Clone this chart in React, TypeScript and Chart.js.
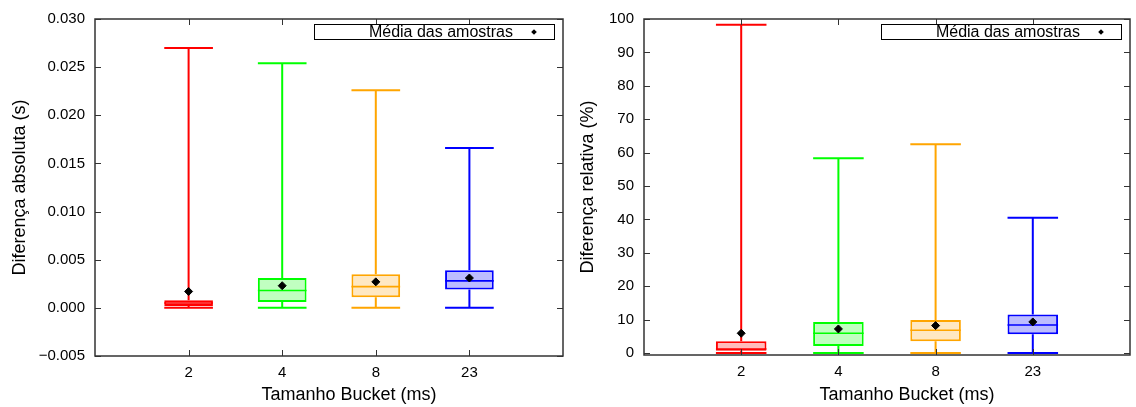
import React, { useEffect, useRef } from 'react';
import { Chart, registerables } from 'chart.js';

Chart.register(...registerables);

// Bucket sizes (ms) shown on the x axis, placed at slots 1..4 of a 0..5 axis
const BUCKETS = ['2', '4', '8', '23'];
const SLOTS = [1, 2, 3, 4];

const EDGE_COLORS = ['#ff0000', '#00ff00', '#ffa500', '#0000ff'];
const FILL_COLORS = ['#ffbcbc', '#c0ffc0', '#ffe8c2', '#bcbcff'];

const LEGEND_LABEL = 'Média das amostras';
const X_TITLE = 'Tamanho Bucket (ms)';

// Absolute difference (s)
const ABS_MIN = [0, 0, 0, 0];
const ABS_Q1 = [0.0002, 0.0006, 0.0011, 0.0019];
const ABS_MEDIAN = [0.0005, 0.0018, 0.0022, 0.0028];
const ABS_Q3 = [0.0008, 0.0031, 0.0035, 0.0039];
const ABS_MAX = [0.027, 0.0254, 0.0226, 0.0166];
const ABS_MEAN = [0.0017, 0.0023, 0.0027, 0.0031];
const ABS_TICKS = [-0.005, 0, 0.005, 0.01, 0.015, 0.02, 0.025, 0.03];
const ABS_TICK_LABELS = ['\u22120.005', '0.000', '0.005', '0.010', '0.015', '0.020', '0.025', '0.030'];

// Relative difference (%)
const REL_MIN = [0, 0, 0, 0];
const REL_Q1 = [0.7, 2.1, 3.5, 5.6];
const REL_MEDIAN = [1.2, 5.9, 6.8, 8.4];
const REL_Q3 = [3.5, 9.3, 9.9, 11.5];
const REL_MAX = [98.3, 58.3, 62.5, 40.5];
const REL_MEAN = [5.9, 7.2, 8.2, 9.3];
const REL_TICKS = [0, 10, 20, 30, 40, 50, 60, 70, 80, 90, 100];
const REL_TICK_LABELS = ['0', '10', '20', '30', '40', '50', '60', '70', '80', '90', '100'];

const FONT = '"Liberation Sans", Arial, Helvetica, sans-serif';
const INK = '#000000';
const FRAME = '#333333';

type Spec = {
  min: number[];
  q1: number[];
  median: number[];
  q3: number[];
  max: number[];
  mean: number[];
  ticks: number[];
  tickLabels: string[];
  yMin: number;
  yMax: number;
  yTitle: string;
  axisWidth: number;
  padRight: number;
  xAxisHeight: number;
};

function makeBoxPlugin(s: Spec) {
  return {
    id: 'boxStats',
    beforeDatasetsDraw(chart: any) {
      const { ctx } = chart;
      const xs = chart.scales.x;
      const ys = chart.scales.y;
      const bars = chart.getDatasetMeta(1).data;
      ctx.save();
      ctx.lineWidth = 2;
      SLOTS.forEach((slot, i) => {
        const cx = xs.getPixelForValue(slot);
        const half = bars[i].width / 2;
        const yLo = ys.getPixelForValue(s.min[i]);
        const yQ1 = ys.getPixelForValue(s.q1[i]);
        const yQ3 = ys.getPixelForValue(s.q3[i]);
        const yHi = ys.getPixelForValue(s.max[i]);
        ctx.strokeStyle = EDGE_COLORS[i];
        ctx.beginPath();
        ctx.moveTo(cx, yLo);
        ctx.lineTo(cx, yQ1);
        ctx.moveTo(cx, yQ3);
        ctx.lineTo(cx, yHi);
        ctx.moveTo(cx - half, yLo);
        ctx.lineTo(cx + half, yLo);
        ctx.moveTo(cx - half, yHi);
        ctx.lineTo(cx + half, yHi);
        ctx.stroke();
      });
      ctx.restore();
    },
    afterDatasetDraw(chart: any, args: any) {
      if (args.index !== 1) return;
      const { ctx } = chart;
      const xs = chart.scales.x;
      const ys = chart.scales.y;
      const bars = chart.getDatasetMeta(1).data;
      ctx.save();
      ctx.lineWidth = 1.6;
      SLOTS.forEach((slot, i) => {
        const cx = xs.getPixelForValue(slot);
        const half = bars[i].width / 2;
        const y = ys.getPixelForValue(s.median[i]);
        ctx.strokeStyle = EDGE_COLORS[i];
        ctx.beginPath();
        ctx.moveTo(cx - half, y);
        ctx.lineTo(cx + half, y);
        ctx.stroke();
      });
      ctx.restore();
    },
    afterDraw(chart: any) {
      const { ctx, chartArea: a } = chart;
      const xs = chart.scales.x;
      const ys = chart.scales.y;
      const tick = 6;
      ctx.save();
      // inward tick marks on all four sides
      ctx.strokeStyle = FRAME;
      ctx.lineWidth = 1;
      ctx.beginPath();
      ys.ticks.forEach((t: any) => {
        const y = Math.round(ys.getPixelForValue(t.value)) + 0.5;
        ctx.moveTo(a.left, y);
        ctx.lineTo(a.left + tick, y);
        ctx.moveTo(a.right, y);
        ctx.lineTo(a.right - tick, y);
      });
      xs.ticks.forEach((t: any) => {
        const x = Math.round(xs.getPixelForValue(t.value)) + 0.5;
        ctx.moveTo(x, a.bottom);
        ctx.lineTo(x, a.bottom - tick);
        ctx.moveTo(x, a.top);
        ctx.lineTo(x, a.top + tick);
      });
      ctx.stroke();
      // plot frame
      ctx.lineWidth = 1.5;
      ctx.strokeRect(a.left, a.top, a.right - a.left, a.bottom - a.top);

      // x axis title, set a little right of the plot centre
      ctx.fillStyle = INK;
      ctx.font = `18px ${FONT}`;
      ctx.textAlign = 'center';
      ctx.textBaseline = 'middle';
      ctx.fillText(X_TITLE, (a.left + a.right) / 2 + 20, chart.height - 12);

      // legend box with the mean marker to the right of its label
      const right = a.right - 9;
      const top = a.top + 5;
      const w = 240;
      const h = 15;
      ctx.fillStyle = '#ffffff';
      ctx.fillRect(right - w, top, w, h);
      ctx.strokeStyle = INK;
      ctx.lineWidth = 1;
      ctx.strokeRect(right - w + 0.5, top + 0.5, w, h);
      ctx.fillStyle = INK;
      ctx.font = `16px ${FONT}`;
      ctx.textAlign = 'right';
      ctx.textBaseline = 'middle';
      ctx.fillText(LEGEND_LABEL, right - 41, top + h / 2 + 1);
      const dx = right - 20;
      const dy = top + h / 2 + 0.5;
      const r = 2.8;
      ctx.beginPath();
      ctx.moveTo(dx, dy - r);
      ctx.lineTo(dx + r, dy);
      ctx.lineTo(dx, dy + r);
      ctx.lineTo(dx - r, dy);
      ctx.closePath();
      ctx.fill();
      ctx.restore();
    },
  };
}

function makeConfig(s: Spec): any {
  return {
    type: 'bar',
    data: {
      datasets: [
        {
          type: 'scatter',
          label: LEGEND_LABEL,
          data: SLOTS.map((slot, i) => ({ x: slot, y: s.mean[i] })),
          pointStyle: 'rectRot',
          pointRadius: 4,
          backgroundColor: INK,
          borderColor: INK,
          borderWidth: 1,
        },
        {
          type: 'bar',
          label: 'box',
          data: SLOTS.map((slot, i) => ({ x: slot, y: [s.q1[i], s.q3[i]] })),
          backgroundColor: FILL_COLORS,
          borderColor: EDGE_COLORS,
          borderWidth: 2,
          borderSkipped: false,
          categoryPercentage: 1,
          barPercentage: 0.52,
        },
      ],
    },
    options: {
      responsive: false,
      animation: false,
      events: [],
      layout: { padding: { left: 0, right: s.padRight, top: 17, bottom: 0 } },
      plugins: {
        legend: { display: false },
        tooltip: { enabled: false },
      },
      scales: {
        x: {
          type: 'linear',
          min: 0,
          max: 5,
          offset: false,
          grid: { display: false, drawTicks: false },
          border: { display: false },
          afterBuildTicks: (scale: any) => {
            scale.ticks = SLOTS.map((v) => ({ value: v }));
          },
          afterFit: (scale: any) => {
            scale.height = s.xAxisHeight;
          },
          ticks: {
            padding: 8,
            color: INK,
            font: { family: FONT, size: 15 },
            maxRotation: 0,
            autoSkip: false,
            callback: (_v: any, i: number) => BUCKETS[i],
          },
          title: { display: false },
        },
        y: {
          type: 'linear',
          min: s.yMin,
          max: s.yMax,
          grid: { display: false, drawTicks: false },
          border: { display: false },
          afterBuildTicks: (scale: any) => {
            scale.ticks = s.ticks.map((v) => ({ value: v }));
          },
          afterFit: (scale: any) => {
            scale.width = s.axisWidth;
          },
          ticks: {
            padding: 10,
            color: INK,
            font: { family: FONT, size: 15 },
            autoSkip: false,
            callback: (_v: any, i: number) => s.tickLabels[i],
          },
          title: {
            display: true,
            text: s.yTitle,
            color: INK,
            font: { family: FONT, size: 18 },
            padding: { top: 9, bottom: 0 },
          },
        },
      },
    },
    plugins: [makeBoxPlugin(s)],
  };
}

const ABS_SPEC: Spec = {
  min: ABS_MIN,
  q1: ABS_Q1,
  median: ABS_MEDIAN,
  q3: ABS_Q3,
  max: ABS_MAX,
  mean: ABS_MEAN,
  ticks: ABS_TICKS,
  tickLabels: ABS_TICK_LABELS,
  yMin: -0.005,
  yMax: 0.03,
  yTitle: 'Diferença absoluta (s)',
  axisWidth: 95,
  padRight: 5,
  xAxisHeight: 51,
};

const REL_SPEC: Spec = {
  min: REL_MIN,
  q1: REL_Q1,
  median: REL_MEDIAN,
  q3: REL_Q3,
  max: REL_MAX,
  mean: REL_MEAN,
  ticks: REL_TICKS,
  tickLabels: REL_TICK_LABELS,
  yMin: -0.6,
  yMax: 100,
  yTitle: 'Diferença relativa (%)',
  axisWidth: 76,
  padRight: 6,
  xAxisHeight: 52,
};

function BoxChart({ spec }: { spec: Spec }) {
  const ref = useRef<HTMLCanvasElement>(null);
  useEffect(() => {
    const chart = new Chart(ref.current as HTMLCanvasElement, makeConfig(spec));
    return () => chart.destroy();
  }, [spec]);
  return (
    <canvas
      ref={ref}
      width={568}
      height={407}
      style={{ display: 'block', width: 568, height: 407 }}
    />
  );
}

export default function App() {
  return (
    <div
      style={{
        position: 'fixed',
        left: 0,
        top: 0,
        width: 1136,
        height: 407,
        display: 'flex',
        background: '#ffffff',
      }}
    >
      <BoxChart spec={ABS_SPEC} />
      <BoxChart spec={REL_SPEC} />
    </div>
  );
}
